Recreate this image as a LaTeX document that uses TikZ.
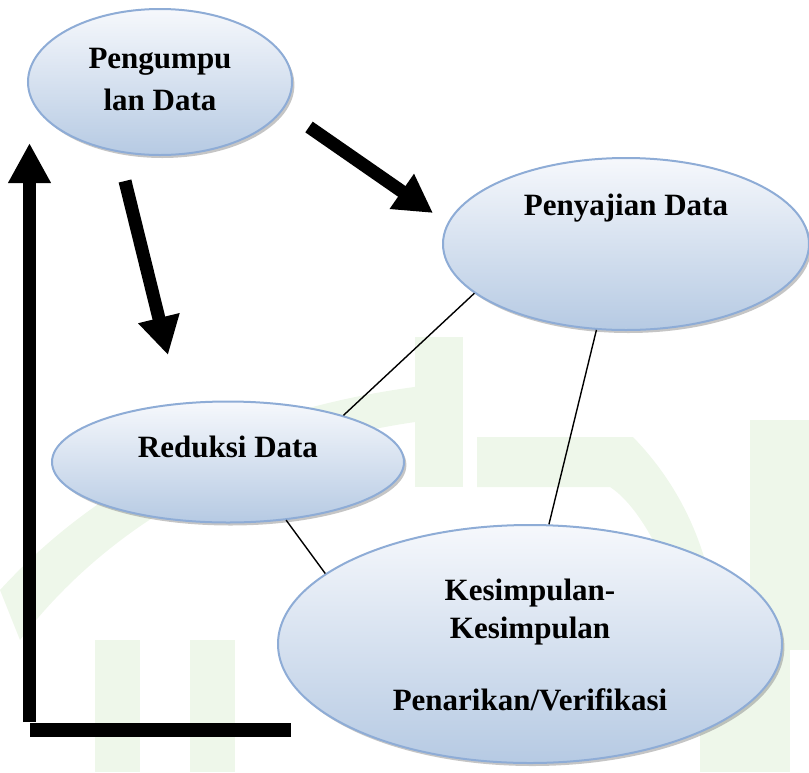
\documentclass[tikz,border=0pt]{standalone}
\usepackage{fontspec}
\setmainfont{Liberation Serif}
\usetikzlibrary{arrows.meta, shapes.geometric, shadows}
\definecolor{ovBorder}{HTML}{8EACD6}
\definecolor{ovTop}{HTML}{F6F8FC}
\definecolor{ovMid}{HTML}{DCE5F1}
\definecolor{ovBottom}{HTML}{B6CAE3}
\definecolor{wmGreen}{HTML}{EEF7EA}

\begin{document}
\begin{tikzpicture}[x=0.5pt, y=-0.5pt,
  oval/.style={ellipse, draw=ovBorder, line width=1pt, inner sep=0pt, top color=ovTop, middle color=ovMid, bottom color=ovBottom, drop shadow={shadow xshift=1.2pt, shadow yshift=-1.5pt, fill=black!45, opacity=.5}},
  ovaltext/.style={font=\fontsize{15.5}{21}\selectfont\bfseries, align=center, inner sep=0pt},
  blockarrow/.style={line width=6.5pt, -{Triangle[width=20pt, length=19pt]}},
  joinline/.style={line width=0.7pt}]
\useasboundingbox (0,0) rectangle (809,772);
\fill[wmGreen] (0,590) .. controls (110,470) and (260,405) .. (430,385) -- (430,420) .. controls (270,440) and (120,510) .. (20,640) -- cycle;
\fill[wmGreen] (415,337) rectangle (463,487);
\fill[wmGreen] (477,437) -- (633,437) .. controls (665,470) and (690,510) .. (705,560) -- (665,565) .. controls (650,530) and (630,500) .. (610,487) -- (477,487) -- cycle;
\fill[wmGreen] (750,420) rectangle (809,650);
\fill[wmGreen] (95,640) rectangle (140,772);
\fill[wmGreen] (190,640) rectangle (235,772);
\fill[wmGreen] (700,650) rectangle (790,772);
\node[oval, minimum width=132pt, minimum height=73pt] (peng) at (160,82) {};
\node[oval, minimum width=183pt, minimum height=86pt] (peny) at (626,244) {};
\node[oval, minimum width=176pt, minimum height=60.5pt] (red) at (228,462) {};
\node[oval, minimum width=252pt, minimum height=119pt] (kes) at (530,644) {};
\node[ovaltext] (pengT) at (160,79) {Pengumpu\\lan Data};
\node[ovaltext] (penyT) at (626,208) {Penyajian Data};
\node[ovaltext] (redT) at (228,447) {Reduksi Data};
\node[ovaltext, font=\fontsize{15.5}{19}\selectfont\bfseries] (kesT) at (530,645) {Kesimpulan-\\Kesimpulan\\[17pt]Penarikan/Verifikasi};
\draw[joinline] (peny.198) -- (red.22);
\draw[joinline] (peny.251) -- (kes.81);
\draw[joinline] (red.315) -- (kes.161);
\coordinate (pengOut) at (309,127);
\coordinate (penyIn) at (433,213);
\coordinate (redOut) at (125,181);
\coordinate (redIn) at (168,355);
\coordinate (backFoot) at (29.5,722);
\coordinate (backHead) at (29.5,143);
\coordinate (baseLeft) at (30,730);
\coordinate (baseRight) at (291,730);
\draw[blockarrow] (pengOut) -- (penyIn);
\draw[blockarrow] (redOut) -- (redIn);
\draw[blockarrow, -{Triangle[width=20pt, length=20pt]}] (backFoot) -- (backHead);
\draw[line width=7pt] (baseLeft) -- (baseRight);
\end{tikzpicture}
\end{document}
